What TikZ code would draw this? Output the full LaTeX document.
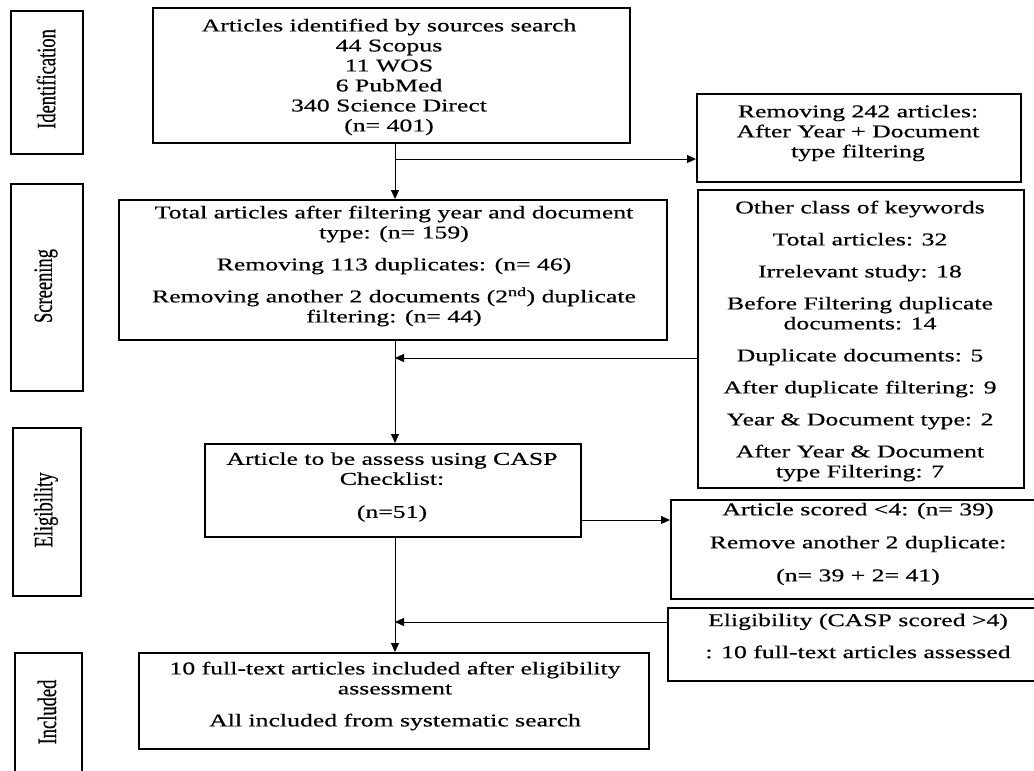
\documentclass[tikz,border=0pt]{standalone}
\usepackage{graphicx}
\usepackage{fontspec}
\setmainfont{Liberation Serif}[FakeStretch=1.43,FakeBold=0.5]
\newfontfamily\labfont{Liberation Serif}[FakeBold=0.5]
\usetikzlibrary{arrows.meta}
\newcommand\vlab[1]{\scalebox{1}[1.43]{#1}}
\begin{document}
\begin{tikzpicture}[x=1pt,y=-1pt,
  box/.style={draw, line width=2.2pt, inner sep=0pt, anchor=north west},
  txt/.style={align=center, inner sep=0pt, font=\fontsize{18pt}{20pt}\selectfont},
  stagelab/.style={rotate=90, inner sep=0pt, font=\labfont\fontsize{18.5pt}{20pt}\selectfont},
  arr/.style={line width=1pt, -{Triangle[length=9pt,width=8pt]}},
  conn/.style={line width=1pt}
]
\useasboundingbox (0,0) rectangle (1034,771);
\clip (0,0) rectangle (1034,771);
\fill[white] (0,0) rectangle (1034,771);

% stage boxes
\node[box, minimum width=72pt, minimum height=143pt] (sid) at (10,10) {};
\node[stagelab] (lid) at (46,79) {\vlab{Identification}};
\node[box, minimum width=72pt, minimum height=207pt] (ssc) at (10,183) {};
\node[stagelab] (lsc) at (46,286) {\vlab{Screening}};
\node[box, minimum width=68pt, minimum height=168pt] (sel) at (12,427) {};
\node[stagelab] (lel) at (46,510) {\vlab{Eligibility}};
\node[box, minimum width=67pt, minimum height=160pt] (sin) at (14,652) {};
\node[stagelab] (lin) at (47,712) {\vlab{Included}};

% main boxes
\node[box, minimum width=477pt, minimum height=135pt] (b1) at (152,7) {};
\node[txt] (b1t) at (389,77) {Articles identified by sources search\\44 Scopus\\11 WOS\\6 PubMed\\340 Science Direct\\(n= 401)};

\node[box, minimum width=324pt, minimum height=88pt] (rem) at (696,93) {};
\node[txt] (remt) at (858,133) {Removing 242 articles:\\After Year + Document\\type filtering};

\node[box, minimum width=548pt, minimum height=140pt] (b2) at (118,199) {};
\node[txt] (b2t) at (394,266) {Total articles after filtering year and document\\type: (n= 159)\\[12pt]Removing 113 duplicates: (n= 46)\\[12pt]Removing another 2 documents (2\textsuperscript{nd}) duplicate\\filtering: (n= 44)};

\node[box, minimum width=326pt, minimum height=298pt] (oth) at (697,189) {};
\node[txt] (otht) at (860,341) {Other class of keywords\\[12pt]Total articles: 32\\[12pt]Irrelevant study: 18\\[12pt]Before Filtering duplicate\\documents: 14\\[12pt]Duplicate documents: 5\\[12pt]After duplicate filtering: 9\\[12pt]Year \& Document type: 2\\[12pt]After Year \& Document\\type Filtering: 7};

\node[box, minimum width=376pt, minimum height=93pt] (b3) at (204,443) {};
\node[txt] (b3t) at (392,487) {Article to be assess using CASP\\Checklist:\\[13pt](n=51)};

\node[box, minimum width=376pt, minimum height=99pt] (sc) at (670,499) {};
\node[txt] (sct) at (858,544) {Article scored <4: (n= 39)\\[13pt]Remove another 2 duplicate:\\[13pt](n= 39 + 2= 41)};

\node[box, minimum width=382pt, minimum height=73pt] (casp) at (667,607) {};
\node[txt] (caspt) at (858,636) {Eligibility (CASP scored >4)\\[12pt]: 10 full-text articles assessed};

\node[box, minimum width=510pt, minimum height=96pt] (b4) at (138,652) {};
\node[txt] (b4t) at (395,696) {10 full-text articles included after eligibility\\assessment\\[12pt]All included from systematic search};

% connectors
\coordinate (mx) at (395,0);
\coordinate (j1) at (395,159);
\coordinate (j2) at (395,358);
\coordinate (j3) at (395,520);
\coordinate (j4) at (395,622);
\draw[arr] (b1.south -| mx) -- (b2.north -| mx);
\draw[arr] (j1) -- (rem.west |- j1);
\draw[arr] (b2.south -| mx) -- (b3.north -| mx);
\draw[arr] (oth.west |- j2) -- (j2);
\draw[arr] (b3.east |- j3) -- (sc.west |- j3);
\draw[arr] (b3.south -| mx) -- (b4.north -| mx);
\draw[arr] (casp.west |- j4) -- (j4);
\end{tikzpicture}
\end{document}
